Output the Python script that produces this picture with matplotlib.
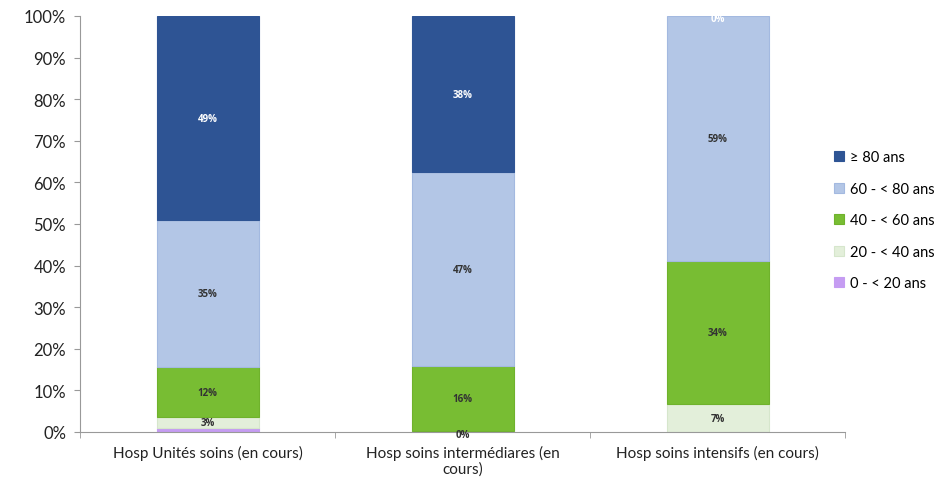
import matplotlib.pyplot as plt
import numpy as np

# données (en %)
categories = ["Hosp Unités soins (en cours)",
              "Hosp soins intermédiares (en\ncours)",
              "Hosp soins intensifs (en cours)"]
age_groups = ["0 - < 20 ans", "20 - < 40 ans", "40 - < 60 ans", "60 - < 80 ans", "\u2265 80 ans"]
age_0_20 = [0.9, 0.0, 0.0]
age_20_40 = [2.7, 0.2, 6.7]
age_40_60 = [12.0, 15.6, 34.4]
age_60_80 = [35.3, 46.6, 58.9]
age_80_plus = [49.1, 37.6, 0.0]

series = [age_0_20, age_20_40, age_40_60, age_60_80, age_80_plus]
colors = ["#c59cf2", "#e3efda", "#78bd33", "#b3c6e6", "#2e5494"]
edges = ["#c59cf2", "#d6e6cc", "#6fb22c", "#a3b9e0", "#2e5494"]
label_colors = [None, "#333333", "#333333", "#333333", "white"]

plt.rcParams['font.family'] = ['Lato', 'DejaVu Sans']

fig = plt.figure(figsize=(9.38, 4.81), dpi=100)
ax = fig.add_axes([0.0853, 0.0998, 0.8156, 0.8649])

x = np.arange(len(categories))
bottom = np.zeros(len(categories))
handles = []
for vals, col, ec, lc, name in zip(series, colors, edges, label_colors, age_groups):
    vals = np.array(vals)
    lw = [0.8 if v > 0 else 0 for v in vals]
    bars = ax.bar(x, vals, width=0.4, bottom=bottom, color=col, edgecolor=ec,
                  linewidth=lw, label=name)
    handles.append(bars)
    if lc is not None:
        for xi, v, b in zip(x, vals, bottom):
            ypos = b + v / 2
            if v < 1:
                ypos = b - 0.6 if b < 1 else b - 0.6
            ax.text(xi, ypos, f"{v:.0f}%", ha="center", va="center",
                    fontsize=7, fontweight="bold", color=lc, family="Open Sans")
    bottom += vals

ax.set_xlim(-0.5, 2.5)
ax.set_ylim(0, 100)
ax.set_yticks(np.arange(0, 101, 10))
ax.set_yticklabels([f"{t}%" for t in range(0, 101, 10)], fontsize=12, color="#222222")
ax.set_xticks(x)
ax.set_xticklabels(categories, fontsize=11, color="#222222", linespacing=1.2)
ax.tick_params(axis="x", length=0, pad=9)
ax.set_xticks([-0.5, 0.5, 1.5, 2.5], minor=True)
ax.tick_params(axis="x", which="minor", length=4, color="#999999")
ax.tick_params(axis="y", length=4, color="#999999", pad=6)
for s in ["top", "right"]:
    ax.spines[s].set_visible(False)
for s in ["left", "bottom"]:
    ax.spines[s].set_color("#999999")

fig.legend(handles[::-1], age_groups[::-1], loc="center left",
           bbox_to_anchor=(0.875, 0.54), frameon=False, fontsize=10.5,
           handlelength=0.7, handleheight=0.7, handletextpad=0.4,
           labelspacing=1.2)

fig.savefig("out.png", dpi=100)
